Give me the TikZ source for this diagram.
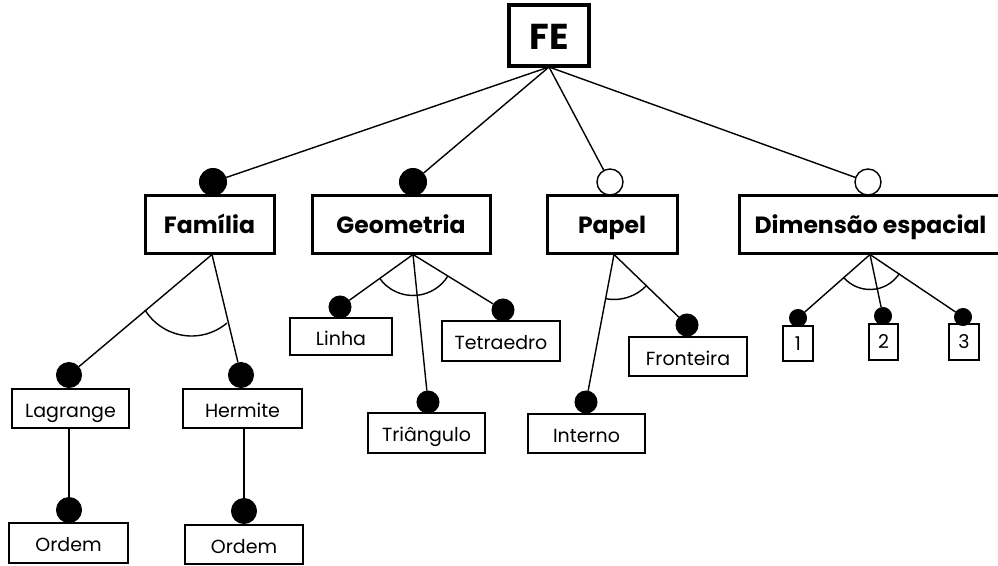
\documentclass[tikz,border=0pt]{standalone}
\usepackage{fontspec}
\setmainfont{Poppins}
\begin{document}
\begin{tikzpicture}[x=1pt,y=-1pt,
  link/.style={line width=1.4pt},
  rootbox/.style={draw,line width=3.5pt,minimum width=80pt,minimum height=61pt,inner sep=0pt,
    text height=27pt,text depth=0pt,font=\fontsize{36}{40}\selectfont\bfseries},
  topbox/.style={draw,line width=3pt,minimum height=58pt,inner sep=0pt,
    text height=18pt,text depth=0pt,font=\fontsize{23.5}{26}\selectfont\bfseries},
  leafbox/.style={draw,line width=1.2pt,minimum height=39pt,inner sep=0pt,
    text height=17pt,text depth=0pt,font=\fontsize{19}{22}\selectfont},
  numbox/.style={draw,line width=1.2pt,minimum width=30pt,minimum height=35pt,inner sep=0pt,
    text height=13pt,text depth=0pt,font=\fontsize{19}{22}\selectfont},
  mand/.style={circle,fill=black,draw=black,line width=1pt,inner sep=0pt,minimum size=#1},
  opt/.style={circle,fill=white,draw=black,line width=1.4pt,inner sep=0pt,minimum size=#1},
  grp/.style={line width=1.4pt}]
\useasboundingbox (0,0) rectangle (998,565);

% root and first level
\node[rootbox] (fe) at (549,35.5) {FE};
\node[topbox,minimum width=129pt] (fam) at (209.5,224) {Família};
\node[topbox,minimum width=178pt] (geo) at (401,224) {Geometria};
\node[topbox,minimum width=130pt] (pap) at (612,224) {Papel};
\node[topbox,minimum width=263pt] (dim) at (870.5,224) {Dimensão espacial};

\node[mand=27pt] (cfam) at (213,182) {};
\node[mand=27pt] (cgeo) at (413,182) {};
\node[opt=26pt]  (cpap) at (610,182) {};
\node[opt=26pt]  (cdim) at (868,182) {};

\coordinate (top) at (549,67);
\foreach \c in {cfam,cgeo,cpap,cdim} \draw[link] (top) -- (\c);

% group apexes below the first-level boxes
\coordinate (afam) at (212,254.5);
\coordinate (ageo) at (413,254.5);
\coordinate (apap) at (614,254.5);
\coordinate (adim) at (870,254.5);

% Família
\node[leafbox,minimum width=117pt] (lag) at (70.5,408.5) {Lagrange};
\node[leafbox,minimum width=119pt] (her) at (242.5,408.5) {Hermite};
\node[leafbox,minimum width=119pt,minimum height=40pt] (ord1) at (68.5,543) {Ordem};
\node[leafbox,minimum width=118pt] (ord2) at (244,544.5) {Ordem};
\node[mand=25pt] (clag) at (69,375) {};
\node[mand=25pt] (cher) at (241,375) {};
\node[mand=25pt] (cord1) at (69,510) {};
\node[mand=25pt] (cord2) at (244,511) {};
\draw[link] (afam) -- (clag);
\draw[link] (afam) -- (cher);
\draw[link] (lag.south -| cord1) -- (cord1);
\draw[link] (her.south -| cord2) -- (cord2);
\draw[grp] (191.6,281.3) ++(148.4:54.7) arc[start angle=148.4,end angle=49.7,radius=54.7];

% Geometria
\node[leafbox,minimum width=102pt,minimum height=37pt] (lin) at (341,336.5) {Linha};
\node[leafbox,minimum width=118pt,minimum height=40pt] (tet) at (501,341) {Tetraedro};
\node[leafbox,minimum width=117pt,minimum height=40pt] (tri) at (426.5,433) {Triângulo};
\node[mand=22pt] (clin) at (340,307) {};
\node[mand=22pt] (ctet) at (503,310) {};
\node[mand=22pt] (ctri) at (428,402) {};
\draw[link] (ageo) -- (clin);
\draw[link] (ageo) -- (ctet);
\draw[link] (ageo) -- (ctri);
\draw[grp] (ageo) ++(144.5:41) arc[start angle=144.5,end angle=31.4,radius=41];

% Papel
\node[leafbox,minimum width=117pt] (int) at (586.5,433.5) {Interno};
\node[leafbox,minimum width=118pt] (fro) at (688,356.5) {Fronteira};
\node[mand=22pt] (cint) at (586,402) {};
\node[mand=22pt] (cfro) at (687,325) {};
\draw[link] (apap) -- (cint);
\draw[link] (apap) -- (cfro);
\draw[grp] (apap) ++(100.9:45) arc[start angle=100.9,end angle=43,radius=45];

% Dimensão espacial
\node[numbox] (n1) at (798,343.5) {1};
\node[numbox,minimum width=29pt,minimum height=36pt] (n2) at (883.5,342) {2};
\node[numbox,minimum height=36pt] (n3) at (964,342) {3};
\node[mand=17pt] (cn1) at (798,318) {};
\node[mand=17pt] (cn2) at (883,316) {};
\node[mand=17pt] (cn3) at (963,317) {};
\draw[link] (adim) -- (cn1);
\draw[link] (adim) -- (cn2);
\draw[link] (adim) -- (cn3);
\draw[grp] (adim) ++(139.7:35) arc[start angle=139.7,end angle=32.8,radius=35];
\end{tikzpicture}
\end{document}
